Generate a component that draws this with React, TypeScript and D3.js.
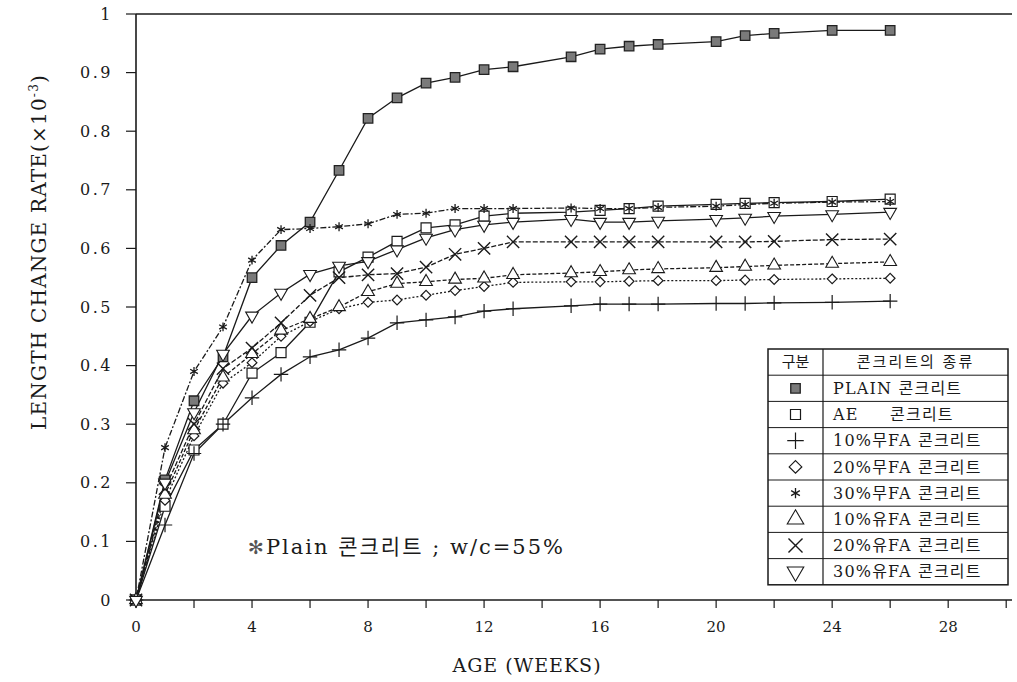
import * as d3 from "d3";

const weeks = [0, 1, 2, 3, 4, 5, 6, 7, 8, 9, 10, 11, 12, 13, 15, 16, 17, 18, 20, 21, 22, 24, 26];

const plain = [0, 0.205, 0.34, 0.415, 0.55, 0.605, 0.645, 0.733, 0.822, 0.857, 0.882, 0.892, 0.905, 0.91, 0.927, 0.94, 0.945, 0.948, 0.953, 0.963, 0.967, 0.972, 0.972];
const ae = [0, 0.16, 0.256, 0.3, 0.387, 0.422, 0.474, 0.56, 0.585, 0.612, 0.635, 0.64, 0.655, 0.66, 0.662, 0.665, 0.668, 0.672, 0.675, 0.677, 0.678, 0.68, 0.684];
const fa10no = [0, 0.128, 0.25, 0.3, 0.345, 0.385, 0.415, 0.427, 0.447, 0.473, 0.478, 0.483, 0.493, 0.497, 0.502, 0.505, 0.505, 0.505, 0.506, 0.506, 0.507, 0.508, 0.51];
const fa20no = [0, 0.17, 0.28, 0.37, 0.405, 0.45, 0.475, 0.497, 0.508, 0.512, 0.52, 0.528, 0.535, 0.542, 0.543, 0.543, 0.544, 0.545, 0.545, 0.546, 0.547, 0.548, 0.549];
const fa30no = [0, 0.26, 0.39, 0.466, 0.58, 0.632, 0.634, 0.637, 0.642, 0.658, 0.66, 0.668, 0.668, 0.668, 0.669, 0.668, 0.668, 0.67, 0.672, 0.675, 0.677, 0.679, 0.68];
const fa10yes = [0, 0.18, 0.29, 0.38, 0.42, 0.46, 0.48, 0.5, 0.526, 0.54, 0.543, 0.547, 0.549, 0.555, 0.558, 0.56, 0.563, 0.565, 0.567, 0.569, 0.571, 0.574, 0.577];
const fa20yes = [0, 0.19, 0.3, 0.395, 0.43, 0.473, 0.52, 0.55, 0.555, 0.557, 0.568, 0.59, 0.6, 0.611, 0.611, 0.611, 0.611, 0.611, 0.611, 0.611, 0.612, 0.615, 0.616];
const fa30yes = [0, 0.2, 0.32, 0.42, 0.485, 0.524, 0.556, 0.57, 0.578, 0.598, 0.618, 0.632, 0.64, 0.645, 0.65, 0.645, 0.645, 0.647, 0.65, 0.652, 0.655, 0.658, 0.662];

const yTicks = [0, 0.1, 0.2, 0.3, 0.4, 0.5, 0.6, 0.7, 0.8, 0.9, 1];
const xLabels = [0, 4, 8, 12, 16, 20, 24, 28];
const xMinor = [2, 6, 10, 14, 18, 22, 26, 30];

const series = [
  { name: "PLAIN 콘크리트", values: plain, mark: "plain", dash: "" },
  { name: "AE\u00a0\u00a0\u00a0\u00a0\u00a0콘크리트", values: ae, mark: "square", dash: "" },
  { name: "10%무FA 콘크리트", values: fa10no, mark: "plus", dash: "" },
  { name: "20%무FA 콘크리트", values: fa20no, mark: "diamond", dash: "2,2" },
  { name: "30%무FA 콘크리트", values: fa30no, mark: "asterisk", dash: "6,2,2,2" },
  { name: "10%유FA 콘크리트", values: fa10yes, mark: "triUp", dash: "4,2" },
  { name: "20%유FA 콘크리트", values: fa20yes, mark: "times", dash: "5,2" },
  { name: "30%유FA 콘크리트", values: fa30yes, mark: "triDown", dash: "" },
];

const font = "'DejaVu Serif', 'Liberation Serif', 'Noto Sans CJK KR', serif";
const ink = "#1a1a1a";

function Marker({ kind, x, y, big }: { kind: string; x: number; y: number; big?: boolean }) {
  const t = `translate(${x},${y})`;
  const k = big ? 1.3 : 1;
  if (kind === "plain")
    return <path transform={t} d={d3.symbol(d3.symbolSquare, 90)()!} fill="#7a7a7a" stroke="#222" strokeWidth={1.3} />;
  if (kind === "square")
    return <path transform={t} d={d3.symbol(d3.symbolSquare, 100)()!} fill="#fff" stroke={ink} strokeWidth={1.2} />;
  if (kind === "plus")
    return <path transform={t} d={d3.symbol(d3.symbolPlus, 70 * k)()!} fill="none" stroke={ink} strokeWidth={1.2} />;
  if (kind === "diamond")
    return <path transform={t} d={d3.symbol(d3.symbolDiamond2, 60 * k * k)()!} fill="#fff" stroke={ink} strokeWidth={1.2} />;
  if (kind === "asterisk")
    return <path transform={t} d={d3.symbol(d3.symbolAsterisk, 55 * k)()!} fill="none" stroke={ink} strokeWidth={1.3} />;
  if (kind === "triUp")
    return <path transform={t} d={d3.symbol(d3.symbolTriangle, 70 * k * k)()!} fill="#fff" stroke={ink} strokeWidth={1.1} />;
  if (kind === "times")
    return <path transform={t} d={d3.symbol(d3.symbolTimes, 100 * k)()!} fill="none" stroke={ink} strokeWidth={1.4} />;
  return <path transform={`${t} rotate(180)`} d={d3.symbol(d3.symbolTriangle, 70 * k * k)()!} fill="#fff" stroke={ink} strokeWidth={1.1} />;
}

export default function App() {
  const width = 1017;
  const height = 682;
  const x = d3.scaleLinear().domain([0, 30.2]).range([136, 1012]);
  const y = d3.scaleLinear().domain([0, 1]).range([600, 14]);

  const line = d3
    .line<number>()
    .x((_, i) => x(weeks[i]))
    .y((d) => y(d));

  // legend box
  const lgX = 768;
  const lgW = 240;
  const lgDiv = 823;
  const lgTop = 349;
  const rowH = 26.2;

  return (
    <div style={{ position: "absolute", left: 0, top: 0 }}>
      <svg width={width} height={height} style={{ display: "block", background: "#fff" }} fontFamily={font}>
        {/* axes */}
        <line x1={x(0)} x2={x(0)} y1={y(1)} y2={y(0)} stroke={ink} strokeWidth={1.6} />
        <line x1={x(0) - 6} x2={1012} y1={y(0)} y2={y(0)} stroke={ink} strokeWidth={1.6} />
        <line x1={x(0)} x2={1012} y1={y(1)} y2={y(1)} stroke={ink} strokeWidth={1.4} />
        {yTicks.map((v) => (
          <g key={v}>
            <line x1={x(0) - 10} x2={x(0)} y1={y(v)} y2={y(v)} stroke={ink} strokeWidth={1.2} />
            <text x={113} y={y(v)} dy="0.35em" textAnchor="end" fontSize={16} fill={ink} letterSpacing={2.5}>
              {v === 0 || v === 1 ? String(v) : v.toFixed(1)}
            </text>
          </g>
        ))}
        {xLabels.concat(xMinor).map((v) => (
          <line key={v} x1={x(v)} x2={x(v)} y1={y(0)} y2={y(0) + 8} stroke={ink} strokeWidth={1.2} />
        ))}
        {xLabels.map((v) => (
          <text key={v} x={x(v)} y={632} textAnchor="middle" fontSize={15} fill={ink}>
            {v}
          </text>
        ))}
        <text x={527} y={672} textAnchor="middle" fontSize={19} fill={ink} letterSpacing={1}>
          AGE (WEEKS)
        </text>
        <text transform="translate(46,252) rotate(-90)" textAnchor="middle" fontSize={20} fill={ink} letterSpacing={1.2}>
          LENGTH CHANGE RATE(×10<tspan dy={-8} fontSize={12}>-3</tspan>
          <tspan dy={8}>)</tspan>
        </text>

        {/* series */}
        {series.map((s) => (
          <path key={s.name} d={line(s.values)!} fill="none" stroke={ink} strokeWidth={1.3} strokeDasharray={s.dash} />
        ))}
        {series.map((s) =>
          s.values.map((v, i) => <Marker key={`${s.name}-${i}`} kind={s.mark} x={x(weeks[i])} y={y(v)} />)
        )}

        {/* note */}
        <text x={248} y={554} fontSize={21} fill={ink} letterSpacing={2}>
          <tspan fontFamily="'DejaVu Sans'" fontSize={19} fill="#555">✻</tspan>
          <tspan>Plain 콘크리트 ; w/c=55%</tspan>
        </text>

        {/* legend */}
        <rect x={lgX} y={lgTop} width={lgW} height={rowH * 9} fill="#fff" stroke={ink} strokeWidth={1.5} />
        <line x1={lgDiv} x2={lgDiv} y1={lgTop} y2={lgTop + rowH * 9} stroke={ink} strokeWidth={1.2} />
        {d3.range(1, 9).map((r) => (
          <line key={r} x1={lgX} x2={lgX + lgW} y1={lgTop + rowH * r} y2={lgTop + rowH * r} stroke={ink} strokeWidth={1} />
        ))}
        <text x={(lgX + lgDiv) / 2} y={lgTop + rowH / 2} dy="0.35em" textAnchor="middle" fontSize={15} fill={ink}>
          구분
        </text>
        <text x={(lgDiv + lgX + lgW) / 2} y={lgTop + rowH / 2} dy="0.35em" textAnchor="middle" fontSize={15} fill={ink} letterSpacing={2}>
          콘크리트의 종류
        </text>
        {series.map((s, i) => {
          const cy = lgTop + rowH * (i + 1.5);
          return (
            <g key={s.name}>
              <Marker kind={s.mark} x={(lgX + lgDiv) / 2} y={cy} big />
              <text x={lgDiv + 10} y={cy} dy="0.35em" fontSize={16} fill={ink} letterSpacing={1.2}>
                {s.name}
              </text>
            </g>
          );
        })}
      </svg>
    </div>
  );
}
